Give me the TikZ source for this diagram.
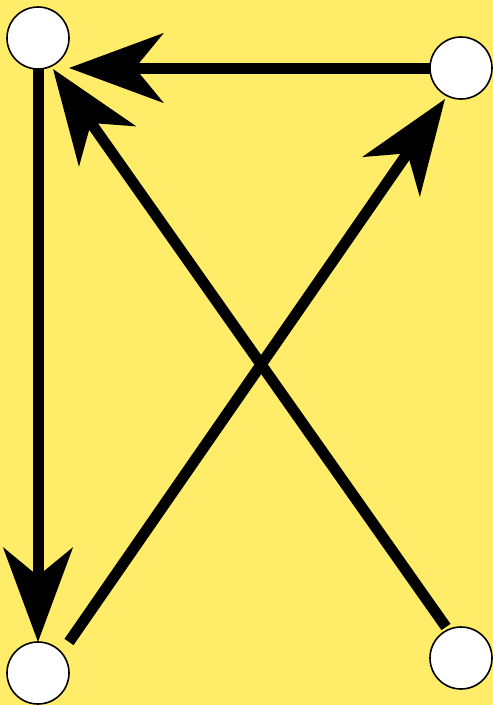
\documentclass[tikz,border=0pt]{standalone}
\usepackage{xcolor}
\definecolor{bgyellow}{RGB}{255,236,104}
\usetikzlibrary{arrows.meta,calc}

\begin{document}
\begin{tikzpicture}[x=1pt,y=-1pt,
  dot/.style={circle,draw=black,fill=white,line width=1.6pt,
              minimum size=62pt,inner sep=0pt,outer sep=0pt},
  bigarrow/.style={line width=11pt,
              -{Stealth[length=94pt,width=69pt,inset=28pt]}}]
  %% Background
  \fill[bgyellow] (0,0) rectangle (493,705);
  \useasboundingbox (0,0) rectangle (493,705);
  %% Corner dots
  \node[dot] (tl) at (38,38) {};
  \node[dot] (tr) at (461,68) {};
  \node[dot] (bl) at (38,673) {};
  \node[dot] (br) at (461,658) {};
  %% Arrows
  \draw[bigarrow] (tr.west) -- ([xshift=31pt,yshift=1pt]tl.south);
  \draw[bigarrow] (tl.south) -- (bl.north);
  \draw[bigarrow] ([xshift=31pt]bl.north) -- ([xshift=-16pt]tr.south);
  \draw[bigarrow] ([xshift=-15pt]br.north) -- ([xshift=15pt]tl.south);
\end{tikzpicture}
\end{document}
